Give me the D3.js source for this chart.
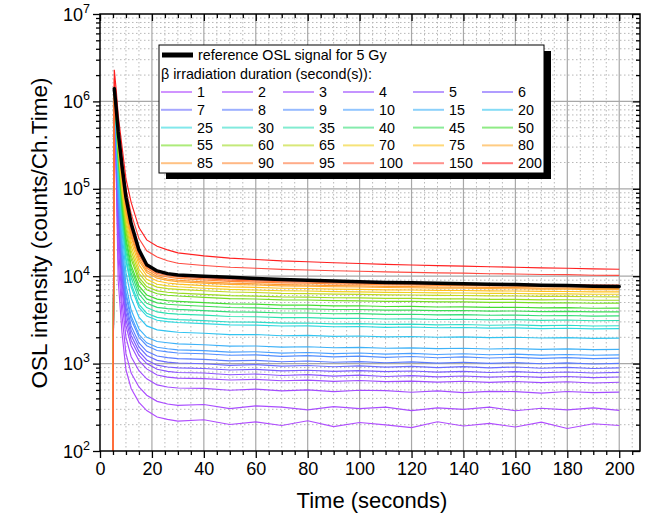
<!DOCTYPE html>
<html>
<head>
<meta charset="utf-8">
<script src="https://cdn.jsdelivr.net/npm/d3@7"></script>
<style>
  body { margin: 0; background: #fff; }
  text { font-family: "Liberation Sans", Arial, sans-serif; }
</style>
</head>
<body>
<svg id="chart" width="646" height="519"></svg>
<script>
// time axis shared by every curve (seconds)
const times = [5.0, 5.5, 6.3, 7, 8.5, 10, 12, 15, 18, 22, 26, 30, 40, 50, 60, 70, 80, 90, 100,
  110, 120, 130, 140, 150, 160, 170, 180, 190, 200];

// beta irradiation durations (s)
const doses = [1, 2, 3, 4, 5, 6, 7, 8, 9, 10, 15, 20, 25, 30, 35, 40, 45, 50, 55, 60, 65, 70,
  75, 80, 85, 90, 95, 100, 150, 200];

// OSL counts per dose
const counts = [
  [90, 1.0e6, 1.2e5, 9e3, 2.2e3, 850, 520, 360, 290, 245, 230, 220, 228, 201, 215, 196, 222, 190, 212, 199, 185, 216, 193, 207, 188, 214, 181, 205, 196],
  [90, 1.05e6, 1.5e5, 1.6e4, 3.5e3, 1300, 780, 540, 435, 370, 345, 333, 340, 305, 328, 318, 296, 322, 305, 318, 290, 311, 299, 318, 289, 308, 295, 312, 292],
  [90, 1.08e6, 1.8e5, 2.5e4, 5e3, 2000, 1200, 830, 670, 570, 540, 526, 520, 495, 510, 488, 500, 478, 495, 490, 470, 488, 465, 482, 478, 460, 480, 466, 472],
  [90, 1.1e6, 2.1e5, 3.5e4, 7e3, 2700, 1600, 1080, 870, 740, 700, 683, 672, 650, 660, 636, 648, 625, 640, 622, 630, 615, 628, 610, 624, 605, 620, 600, 612],
  [90, 1.12e6, 2.4e5, 4.5e4, 8.5e3, 3200, 1850, 1240, 1000, 860, 815, 791, 780, 745, 760, 730, 748, 720, 738, 712, 728, 705, 722, 700, 716, 695, 712, 690, 703],
  [90, 1.14e6, 2.7e5, 5.5e4, 1.0e4, 3800, 2100, 1380, 1100, 960, 915, 893, 878, 845, 858, 825, 840, 815, 832, 808, 822, 798, 815, 790, 810, 785, 802, 780, 795],
  [90, 1.16e6, 3.0e5, 6.5e4, 1.2e4, 4400, 2400, 1550, 1240, 1090, 1040, 1015, 995, 955, 972, 935, 952, 920, 940, 910, 930, 900, 922, 895, 915, 885, 905, 880, 895],
  [90, 1.18e6, 3.3e5, 7.5e4, 1.4e4, 5000, 2700, 1720, 1380, 1220, 1170, 1140, 1118, 1075, 1090, 1050, 1070, 1035, 1055, 1022, 1045, 1012, 1035, 1005, 1028, 995, 1018, 990, 1004],
  [90, 1.2e6, 3.7e5, 8.5e4, 1.7e4, 5900, 3200, 2000, 1600, 1410, 1360, 1322, 1295, 1245, 1260, 1212, 1235, 1195, 1218, 1180, 1205, 1168, 1192, 1160, 1180, 1148, 1170, 1140, 1155],
  [90, 1.22e6, 4e5, 1e5, 2e4, 6500, 3500, 2150, 1730, 1540, 1480, 1438, 1410, 1355, 1368, 1320, 1340, 1300, 1322, 1285, 1308, 1272, 1295, 1262, 1282, 1250, 1272, 1245, 1256],
  [90, 1.24e6, 4.3e5, 1.2e5, 2.5e4, 7900, 4100, 2500, 2000, 1790, 1730, 1682, 1645, 1585, 1590, 1545, 1560, 1518, 1535, 1500, 1515, 1482, 1500, 1468, 1485, 1455, 1475, 1446, 1455],
  [90, 1.26e6, 4.6e5, 1.5e5, 3.2e4, 1.1e4, 5600, 3400, 2700, 2430, 2350, 2282, 2225, 2145, 2150, 2085, 2100, 2050, 2070, 2020, 2040, 2000, 2020, 1980, 2000, 1962, 1985, 1945, 1958],
  [90, 1.28e6, 4.9e5, 1.7e5, 3.8e4, 1.48e4, 7500, 4400, 3500, 3130, 3020, 2950, 2870, 2770, 2760, 2690, 2700, 2640, 2660, 2600, 2620, 2570, 2590, 2545, 2565, 2515, 2540, 2495, 2510],
  [90, 1.29e6, 5.2e5, 1.9e5, 4.4e4, 1.62e4, 8200, 4750, 3770, 3380, 3250, 3186, 3100, 2995, 2980, 2905, 2915, 2850, 2870, 2810, 2830, 2775, 2800, 2745, 2770, 2718, 2745, 2695, 2712],
  [90, 1.3e6, 5.5e5, 2.1e5, 5e4, 1.9e4, 9600, 5500, 4370, 3900, 3760, 3689, 3580, 3460, 3435, 3355, 3360, 3290, 3300, 3240, 3255, 3195, 3220, 3160, 3185, 3125, 3150, 3095, 3112],
  [90, 1.31e6, 5.7e5, 2.3e5, 5.6e4, 2.17e4, 1.08e4, 6250, 4900, 4400, 4250, 4165, 4040, 3905, 3880, 3790, 3790, 3715, 3725, 3655, 3670, 3610, 3630, 3570, 3590, 3530, 3555, 3495, 3510],
  [90, 1.32e6, 5.9e5, 2.4e5, 6.2e4, 2.48e4, 1.22e4, 7000, 5500, 4960, 4770, 4680, 4530, 4380, 4345, 4240, 4235, 4155, 4160, 4085, 4095, 4030, 4050, 3985, 4000, 3940, 3960, 3900, 3912],
  [90, 1.33e6, 6e5, 2.5e5, 7e4, 2.74e4, 1.34e4, 7740, 6100, 5470, 5260, 5160, 4990, 4830, 4790, 4675, 4670, 4580, 4585, 4505, 4515, 4445, 4465, 4395, 4410, 4345, 4365, 4300, 4315],
  [90, 1.34e6, 6.2e5, 2.7e5, 7.8e4, 3.2e4, 1.57e4, 8900, 7000, 6300, 6050, 5929, 5725, 5540, 5480, 5355, 5335, 5245, 5230, 5150, 5145, 5080, 5085, 5020, 5020, 4960, 4970, 4905, 4915],
  [90, 1.35e6, 6.4e5, 2.9e5, 8.6e4, 3.5e4, 1.73e4, 9700, 7600, 6800, 6550, 6413, 6190, 5995, 5925, 5795, 5765, 5675, 5655, 5575, 5565, 5500, 5495, 5432, 5428, 5365, 5372, 5310, 5312],
  [90, 1.36e6, 6.6e5, 3.1e5, 9.4e4, 4.0e4, 1.95e4, 1.08e4, 8400, 7500, 7220, 7076, 6815, 6600, 6510, 6370, 6330, 6230, 6200, 6118, 6095, 6030, 6018, 5955, 5940, 5880, 5878, 5815, 5810],
  [90, 1.37e6, 6.8e5, 3.3e5, 1.0e5, 4.5e4, 2.2e4, 1.2e4, 9200, 8100, 7750, 7564, 7280, 7055, 6955, 6810, 6765, 6660, 6625, 6540, 6515, 6445, 6430, 6365, 6348, 6285, 6280, 6218, 6210],
  [90, 1.38e6, 7e5, 3.5e5, 1.1e5, 5.1e4, 2.5e4, 1.36e4, 1.01e4, 8800, 8350, 8118, 7800, 7555, 7440, 7280, 7225, 7115, 7070, 6980, 6950, 6875, 6858, 6785, 6765, 6695, 6690, 6620, 6610],
  [90, 1.39e6, 7.2e5, 3.7e5, 1.2e5, 5.6e4, 2.8e4, 1.5e4, 1.1e4, 9500, 8950, 8680, 8325, 8058, 7925, 7755, 7690, 7572, 7520, 7422, 7385, 7305, 7282, 7205, 7180, 7105, 7096, 7022, 7010],
  [90, 1.4e6, 7.4e5, 3.9e5, 1.3e5, 6.0e4, 3.0e4, 1.6e4, 1.16e4, 9900, 9300, 9000, 8620, 8335, 8190, 8010, 7938, 7815, 7755, 7652, 7612, 7528, 7502, 7420, 7395, 7312, 7305, 7225, 7210],
  [90, 1.41e6, 7.6e5, 4.1e5, 1.4e5, 6.5e4, 3.25e4, 1.72e4, 1.23e4, 1.04e4, 9800, 9450, 9040, 8730, 8570, 8380, 8298, 8168, 8100, 7992, 7945, 7856, 7826, 7740, 7710, 7622, 7612, 7528, 7510],
  [90, 1.42e6, 7.8e5, 4.3e5, 1.5e5, 6.9e4, 3.45e4, 1.8e4, 1.28e4, 1.08e4, 1.02e4, 9779, 9340, 9012, 8840, 8640, 8550, 8412, 8340, 8225, 8172, 8080, 8048, 7955, 7922, 7832, 7818, 7730, 7712],
  [90, 1.43e6, 8e5, 4.5e5, 1.6e5, 7.3e4, 3.7e4, 1.9e4, 1.34e4, 1.13e4, 1.05e4, 10112, 9645, 9298, 9112, 8900, 8802, 8658, 8580, 8460, 8402, 8305, 8270, 8172, 8136, 8040, 8025, 7932, 7912],
  [90, 1.8e6, 1.0e6, 5.5e5, 2.2e5, 1.0e5, 5.2e4, 2.7e4, 1.95e4, 1.66e4, 1.5e4, 14076, 13250, 12650, 12320, 11960, 11780, 11530, 11390, 11185, 11080, 10910, 10850, 10680, 10610, 10455, 10420, 10265, 10215],
  [90, 2.3e6, 1.3e6, 7e5, 3e5, 1.3e5, 7e4, 3.6e4, 2.6e4, 2.2e4, 2.0e4, 18480, 17090, 16120, 15540, 14950, 14620, 14240, 13970, 13650, 13450, 13210, 13060, 12815, 12670, 12430, 12345, 12110, 12015]
];

// reference OSL signal for 5 Gy
const reference = [null, 1.4e6, 8e5, 4.5e5, 1.8e5, 8e4, 4e4, 2e4, 1.35e4, 1.15e4, 1.07e4, 1.03e4, 1.0e4, 9700,
  9420, 9180, 9010, 8790, 8660, 8490, 8420, 8280, 8210, 8090, 8010, 7880, 7820, 7690, 7610];

const xTickLabels = [0, 20, 40, 60, 80, 100, 120, 140, 160, 180, 200];
const yTickExponents = [2, 3, 4, 5, 6, 7];

const refLabel = "reference OSL signal for 5 Gy";
const durationLabel = "\u03b2 irradiation duration (second(s)):";

// layout
const plot = { left: 100, right: 640, top: 14, bottom: 451 };
const svg = d3.select("#chart");
const font = "'Liberation Sans', Arial, sans-serif";

const x = d3.scaleLinear().domain([0, 208]).range([plot.left, plot.right]);
const y = d3.scaleLog().domain([1e2, 1e7]).range([plot.bottom, plot.top]);

// rainbow colours, purple -> red, by series index
const color = d3.scaleLinear()
  .domain([0, 3, 5, 7, 9, 11, 12, 14, 15, 17, 18, 20, 21, 22, 23, 25, 27, 28, 29])
  .range(["#b04dff", "#9c4dff", "#7b5cff", "#5a7bff", "#4aa0ff", "#33c4f0", "#2fd8e0",
    "#2ee0b0", "#33dd77", "#44dd33", "#77dd22", "#c0d820", "#f0d020", "#ffc020",
    "#ffaa30", "#ff8833", "#ff6040", "#ff4a40", "#ff2020"]);

const xMinor = d3.range(5, 208, 5).filter((v) => v % 20 !== 0);
const yMinor = [];
for (let e = 2; e < 7; e++) for (let k = 2; k <= 9; k++) yMinor.push(k * 10 ** e);
const yMajor = yTickExponents.map((e) => 10 ** e);

// grid
const grid = svg.append("g");
grid.selectAll(".vmin").data(xMinor).join("line")
  .attr("x1", (d) => x(d)).attr("x2", (d) => x(d))
  .attr("y1", plot.top).attr("y2", plot.bottom)
  .attr("stroke", "#b8b8b8").attr("stroke-dasharray", "1.5,2.5");
grid.selectAll(".hmin").data(yMinor).join("line")
  .attr("x1", plot.left).attr("x2", plot.right)
  .attr("y1", (d) => y(d)).attr("y2", (d) => y(d))
  .attr("stroke", "#b8b8b8").attr("stroke-dasharray", "1.5,2.5");
grid.selectAll(".vmaj").data(xTickLabels.slice(1)).join("line")
  .attr("x1", (d) => x(d)).attr("x2", (d) => x(d))
  .attr("y1", plot.top).attr("y2", plot.bottom)
  .attr("stroke", "#a8a8a8").attr("stroke-width", 1.2);
grid.selectAll(".hmaj").data(yMajor.slice(1, -1)).join("line")
  .attr("x1", plot.left).attr("x2", plot.right)
  .attr("y1", (d) => y(d)).attr("y2", (d) => y(d))
  .attr("stroke", "#a8a8a8").attr("stroke-width", 1.2);

// curves
svg.append("clipPath").attr("id", "clip")
  .append("rect")
  .attr("x", plot.left).attr("y", plot.top)
  .attr("width", plot.right - plot.left).attr("height", plot.bottom - plot.top);

const line = d3.line()
  .defined((d) => d[1] != null)
  .x((d) => x(d[0]))
  .y((d) => y(d[1]));

// the two highest doses go underneath, so the rise at t=5 shows the orange of 100 s
const series = counts.map((c, i) => ({ i, c }));
const drawOrder = series.slice(-2).concat(series.slice(0, -2));

const curves = svg.append("g").attr("clip-path", "url(#clip)");
curves.selectAll(".osl").data(drawOrder).join("path")
  .attr("fill", "none")
  .attr("stroke", (d) => color(d.i))
  .attr("stroke-width", 1.15)
  .attr("d", (d) => line(d.c.map((v, i) => [times[i], v])));

curves.append("path")
  .attr("fill", "none")
  .attr("stroke", "#000")
  .attr("stroke-width", 3.5)
  .attr("stroke-linejoin", "round")
  .attr("stroke-linecap", "round")
  .attr("d", line(reference.map((v, i) => [times[i], v])));

// axes
const styleAxis = (g) => {
  g.select(".domain").remove();
  g.selectAll("line").attr("stroke", "#000").attr("stroke-width", 1.3);
};

svg.append("g").attr("transform", `translate(0,${plot.bottom})`)
  .call(d3.axisBottom(x).tickValues(xTickLabels).tickSize(7).tickPadding(4).tickFormat(d3.format("d")))
  .call(styleAxis)
  .attr("font-size", 18).attr("font-family", font)
  .selectAll("text").attr("fill", "#000");
svg.append("g").attr("transform", `translate(0,${plot.bottom})`)
  .call(d3.axisBottom(x).tickValues(xMinor).tickSize(4).tickFormat(""))
  .call(styleAxis);
svg.append("g").attr("transform", `translate(0,${plot.top})`)
  .call(d3.axisBottom(x).tickValues(xTickLabels).tickSize(7).tickFormat(""))
  .call(styleAxis);
svg.append("g").attr("transform", `translate(0,${plot.top})`)
  .call(d3.axisBottom(x).tickValues(xMinor).tickSize(4).tickFormat(""))
  .call(styleAxis);

svg.append("g").attr("transform", `translate(${plot.left},0)`)
  .call(d3.axisLeft(y).tickValues(yMajor).tickSize(7).tickFormat(""))
  .call(styleAxis);
svg.append("g").attr("transform", `translate(${plot.left},0)`)
  .call(d3.axisLeft(y).tickValues(yMinor).tickSize(4).tickFormat(""))
  .call(styleAxis);
svg.append("g").attr("transform", `translate(${plot.right},0)`)
  .call(d3.axisLeft(y).tickValues(yMajor).tickSize(7).tickFormat(""))
  .call(styleAxis);
svg.append("g").attr("transform", `translate(${plot.right},0)`)
  .call(d3.axisLeft(y).tickValues(yMinor).tickSize(4).tickFormat(""))
  .call(styleAxis);

// y tick labels as 10^n
const yLab = svg.append("g").selectAll("text").data(yTickExponents).join("text")
  .attr("x", plot.left - 10)
  .attr("y", (d) => y(10 ** d) + 6.5)
  .attr("text-anchor", "end")
  .attr("fill", "#000");
yLab.append("tspan").attr("font-size", 18).text("10");
yLab.append("tspan").attr("font-size", 12.5).attr("dy", -8).text((d) => d);

// frame
svg.append("rect")
  .attr("x", plot.left).attr("y", plot.top)
  .attr("width", plot.right - plot.left).attr("height", plot.bottom - plot.top)
  .attr("fill", "none").attr("stroke", "#000").attr("stroke-width", 1.5);

// axis titles
svg.append("text")
  .attr("x", 372).attr("y", 508)
  .attr("text-anchor", "middle").attr("font-size", 22)
  .text("Time (seconds)");
svg.append("text")
  .attr("transform", "translate(47,233) rotate(-90)")
  .attr("text-anchor", "middle").attr("font-size", 22.5)
  .text("OSL intensity (counts/Ch.Time)");

// legend
const leg = { x: 159, y: 45, w: 385, h: 128 };
const legendCols = [161, 222, 283, 343, 413, 482];
const lineLen = 31;
const rowY0 = 92, rowStep = 17.8;

const legend = svg.append("g").attr("font-size", 14.3);
legend.append("rect")
  .attr("x", leg.x + 7).attr("y", leg.y + 6).attr("width", leg.w).attr("height", leg.h)
  .attr("fill", "#000");
legend.append("rect")
  .attr("x", leg.x).attr("y", leg.y).attr("width", leg.w).attr("height", leg.h)
  .attr("fill", "#fff").attr("stroke", "#000").attr("stroke-width", 1);

legend.append("line")
  .attr("x1", 162).attr("x2", 193).attr("y1", 55).attr("y2", 55)
  .attr("stroke", "#000").attr("stroke-width", 5);
legend.append("text").attr("x", 198).attr("y", 60).text(refLabel);
legend.append("text").attr("x", 161).attr("y", 79).text(durationLabel);

const items = legend.selectAll(".item").data(doses).join("g")
  .attr("transform", (d, i) => `translate(${legendCols[i % 6]},${rowY0 + Math.floor(i / 6) * rowStep})`);
items.append("line")
  .attr("x1", 0).attr("x2", lineLen)
  .attr("stroke", (d, i) => d3.interpolateRgb(color(i), "#fff")(0.4))
  .attr("stroke-width", 2);
items.append("text")
  .attr("x", lineLen + 5).attr("y", 5)
  .text((d) => d);
</script>
</body>
</html>
